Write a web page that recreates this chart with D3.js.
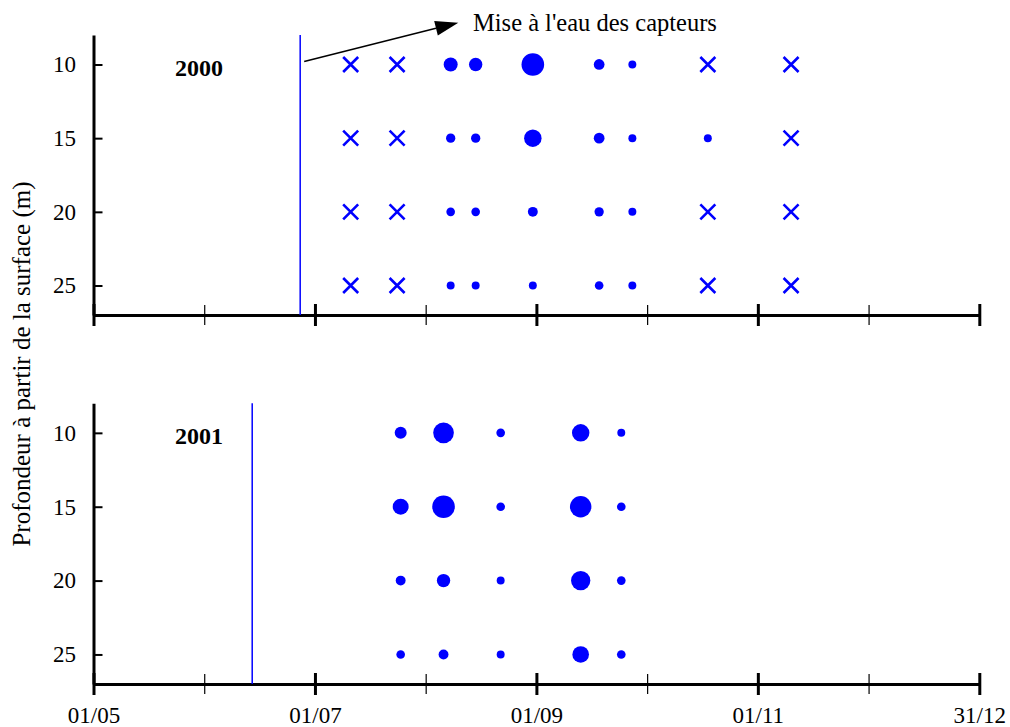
<!DOCTYPE html>
<html>
<head>
<meta charset="utf-8">
<script src="https://cdn.jsdelivr.net/npm/d3@7"></script>
<style>
  html, body { margin: 0; padding: 0; background: #fff; }
  svg { display: block; font-family: "Liberation Serif", "Times New Roman", serif; }
</style>
</head>
<body>
<svg id="chart" width="1010" height="727"></svg>
<script>
// Sampling dates (dd/mm) and depths for each campaign
const depths = [10, 15, 20, 25];

const dates2000 = ["11/07", "24/07", "08/08", "15/08", "31/08", "18/09", "27/09", "18/10", "10/11"];
// Relative abundance per depth; null = no organisms found (cross)
const values2000_10m = [null, null, 34, 31, 89, 20, 11, null, null];
const values2000_15m = [null, null, 15, 15, 53, 20, 11, 11, null];
const values2000_20m = [null, null, 13, 13, 17, 15, 11, null, null];
const values2000_25m = [null, null, 11, 11, 11, 13, 11, null, null];

const dates2001 = ["25/07", "06/08", "22/08", "13/09", "24/09"];
const values2001_10m = [25, 74, 13, 53, 11];
const values2001_15m = [44, 89, 13, 80, 13];
const values2001_20m = [17, 31, 11, 65, 13];
const values2001_25m = [13, 17, 11, 48, 13];

// Date the sensors were put in the water
const deploy2000 = "27/06";
const deploy2001 = "14/06";

// Month ticks (0 = 1 May ... 8 = 31 Dec)
const monthTicks = [0, 1, 2, 3, 4, 5, 6, 7, 8];
const monthLabels = ["01/05", "", "01/07", "", "01/09", "", "01/11", "", "31/12"];
const depthTicks = [10, 15, 20, 25];

const BLUE = "#0000ff";
const SERIF = "Liberation Serif";

// Position of a dd/mm date in months since 1 May (each month gets equal width)
function monthPos(s) {
  const [d, m] = s.split("/").map(Number);
  const days = new Date(2001, m, 0).getDate();
  return (m - 5) + (d - 1) / days;
}

const svg = d3.select("#chart");

const x = d3.scaleLinear().domain([0, 8]).range([93.5, 979.3]);
const r = d3.scaleSqrt().domain([0, 100]).range([0, 12]);

const panels = [
  { year: "2000", top: 35, bottom: 315, dates: dates2000, deploy: deploy2000,
    rows: [values2000_10m, values2000_15m, values2000_20m, values2000_25m], labels: false },
  { year: "2001", top: 403.3, bottom: 684, dates: dates2001, deploy: deploy2001,
    rows: [values2001_10m, values2001_15m, values2001_20m, values2001_25m], labels: true }
];

panels.forEach(p => {
  const y = d3.scaleLinear().domain([8, 27]).range([p.top, p.bottom]);
  const g = svg.append("g");

  // Y axis: ticks pointing into the plot
  const yAxis = g.append("g")
    .attr("transform", `translate(${x(0)},0)`)
    .call(d3.axisLeft(y).tickValues(depthTicks).tickSizeInner(-9).tickSizeOuter(0).tickPadding(17.5));
  yAxis.select(".domain").attr("stroke", "#000").attr("stroke-width", 3);
  yAxis.selectAll(".tick line").attr("stroke", "#000").attr("stroke-width", 2);
  yAxis.selectAll(".tick text")
    .attr("font-family", SERIF)
    .attr("font-size", 23)
    .attr("fill", "#000");

  // X axis: monthly ticks crossing the axis line
  const xAxis = g.append("g")
    .attr("transform", `translate(0,${p.bottom})`)
    .call(d3.axisBottom(x).tickValues(monthTicks).tickSizeOuter(0)
      .tickFormat((d, i) => p.labels ? monthLabels[i] : ""));
  xAxis.select(".domain").attr("stroke", "#000").attr("stroke-width", 3);
  xAxis.selectAll(".tick line")
    .attr("stroke", "#000")
    .attr("y1", d => d % 2 === 0 ? -11 : -10)
    .attr("y2", d => d % 2 === 0 ? 11 : 10)
    .attr("stroke-width", d => d % 2 === 0 ? 3 : 1.2);
  xAxis.selectAll(".tick text")
    .attr("y", 39).attr("dy", 0)
    .attr("font-family", SERIF)
    .attr("font-size", 23)
    .attr("fill", "#000");

  // Year label
  g.append("text")
    .attr("x", 199).attr("y", y(8) + 40.5)
    .attr("text-anchor", "middle")
    .attr("font-family", SERIF)
    .attr("font-weight", "bold")
    .attr("font-size", 24)
    .text(p.year);

  // Sensor deployment line
  g.append("line")
    .attr("x1", x(monthPos(p.deploy))).attr("x2", x(monthPos(p.deploy)))
    .attr("y1", y(8)).attr("y2", y(27))
    .attr("stroke", BLUE).attr("stroke-width", 1.5);

  // Samples
  p.rows.forEach((vals, di) => {
    const cy = y(depths[di]);
    vals.forEach((v, i) => {
      const cx = x(monthPos(p.dates[i]));
      if (v === null) {
        const s = 7.5;
        g.append("path")
          .attr("d", `M${cx - s},${cy - s}L${cx + s},${cy + s}M${cx - s},${cy + s}L${cx + s},${cy - s}`)
          .attr("stroke", BLUE).attr("stroke-width", 2.6).attr("fill", "none");
      } else {
        g.append("circle")
          .attr("cx", cx).attr("cy", cy).attr("r", r(v))
          .attr("fill", BLUE);
      }
    });
  });

  if (p.year === "2000") {
    // Annotation arrow pointing to the deployment line
    const x0 = x(monthPos(p.deploy)) + 4, y0 = y(10) - 3;
    const x1 = 458.3, y1 = 22.7;
    const ang = Math.atan2(y1 - y0, x1 - x0);
    const L = 23, W = 7.5;
    const bx = x1 - L * Math.cos(ang), by = y1 - L * Math.sin(ang);
    g.append("line")
      .attr("x1", x0).attr("y1", y0).attr("x2", bx).attr("y2", by)
      .attr("stroke", "#000").attr("stroke-width", 1.5);
    g.append("path")
      .attr("d", `M${x1},${y1}L${bx + W * Math.sin(ang)},${by - W * Math.cos(ang)}L${bx - W * Math.sin(ang)},${by + W * Math.cos(ang)}Z`)
      .attr("fill", "#000");
    g.append("text")
      .attr("x", 473).attr("y", 31)
      .attr("font-family", SERIF)
      .attr("font-size", 24.5)
      .text("Mise à l'eau des capteurs");
  }
});

// Shared depth label
svg.append("text")
  .attr("transform", "translate(30,364) rotate(-90)")
  .attr("text-anchor", "middle")
  .attr("font-family", SERIF)
  .attr("font-size", 25)
  .text("Profondeur à partir de la surface (m)");
</script>
</body>
</html>
